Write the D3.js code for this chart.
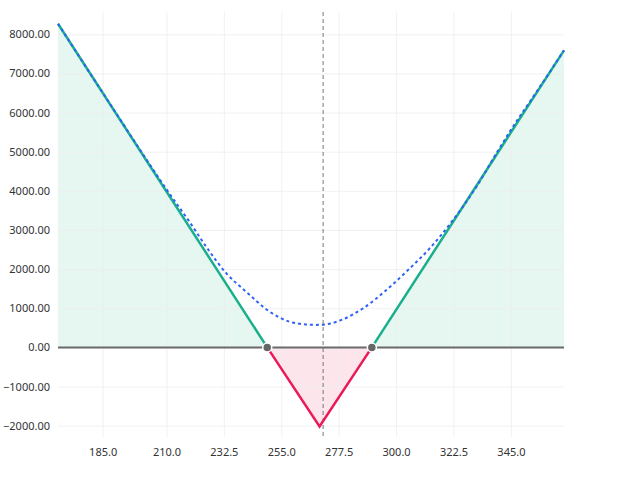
<!DOCTYPE html>
<html>
<head>
<meta charset="utf-8">
<script src="https://cdn.jsdelivr.net/npm/d3@7"></script>
<style>
  body { margin: 0; background: #fff; }
  svg text { font-family: "Noto Sans", sans-serif; font-size: 11px; fill: #333; }
</style>
</head>
<body>
<svg width="624" height="482"></svg>
<script>
// expiry payoff vertices (price, P&L)
var payoffPrice = [167.5, 249.5, 270, 290.5, 365.8];
var payoffValue = [8270, 0, -2020, 0, 7590];

// P&L today
var todayPrice = [167.5, 180, 190, 200, 210, 219, 225.6, 233.5, 241.3, 250.5, 258.3, 264, 268.5, 273, 279.2, 287.1, 296.2, 304, 313.2, 322.3, 331.5, 339.3, 345.8, 355, 365.8];
var todayValue = [8270, 7010, 6010, 5015, 4040, 3210, 2570, 1890, 1420, 910, 655, 590, 575, 595, 718, 1000, 1466, 1934, 2532, 3255, 4106, 4959, 5639, 6525, 7590];

var breakevens = [249.5, 290.5];
var spot = 271.4;

var xTicks = [185, 210, 232.5, 255, 277.5, 300, 322.5, 345];
var yTicks = [-2000, -1000, 0, 1000, 2000, 3000, 4000, 5000, 6000, 7000, 8000];

var svg = d3.select("svg");
var mLeft = 58, mRight = 564, mTop = 12, mBottom = 437;

var x = d3.scaleLinear().domain([167.5, 365.8]).range([mLeft, mRight]);
var y = d3.scaleLinear().domain([-2290, 8570]).range([mBottom, mTop]);

var payoff = payoffPrice.map(function(p, i) { return { p: p, v: payoffValue[i] }; });
var profitLeft = payoff.slice(0, 2), loss = payoff.slice(1, 4), profitRight = payoff.slice(3);

var area = d3.area().x(function(d) { return x(d.p); }).y0(y(0)).y1(function(d) { return y(d.v); });
var line = d3.line().x(function(d) { return x(d.p); }).y(function(d) { return y(d.v); });

[profitLeft, profitRight].forEach(function(seg) {
  svg.append("path").datum(seg).attr("d", area).attr("fill", "#e6f6f1");
});
svg.append("path").datum(loss).attr("d", area).attr("fill", "#fce6ec");

// grid
svg.append("g")
    .attr("transform", "translate(0," + mBottom + ")")
    .call(d3.axisBottom(x).tickValues(xTicks).tickSize(-(mBottom - mTop)).tickFormat(d3.format(".1f")))
    .call(function(g) {
      g.select(".domain").remove();
      g.selectAll("line").attr("stroke", "#eeeeee").attr("stroke-opacity", 0.8);
      g.selectAll("text").attr("dy", "1.45em").attr("fill", "#333");
    });

svg.append("g")
    .attr("transform", "translate(" + mLeft + ",0)")
    .call(d3.axisLeft(y).tickValues(yTicks).tickSize(-(mRight - mLeft)).tickFormat(d3.format(".2f")))
    .call(function(g) {
      g.select(".domain").remove();
      g.selectAll("line").attr("stroke", "#eeeeee").attr("stroke-opacity", 0.8);
      g.selectAll("text").attr("x", -8).attr("fill", "#333");
    });

// zero line
svg.append("line")
    .attr("x1", mLeft).attr("x2", mRight)
    .attr("y1", y(0)).attr("y2", y(0))
    .attr("stroke", "#6b6b6b").attr("stroke-width", 2);

// spot marker
svg.append("line")
    .attr("x1", x(spot)).attr("x2", x(spot))
    .attr("y1", mTop).attr("y2", mBottom)
    .attr("stroke", "#777").attr("stroke-width", 1).attr("stroke-dasharray", "4,3");

[profitLeft, profitRight].forEach(function(seg) {
  svg.append("path").datum(seg).attr("d", line)
      .attr("fill", "none").attr("stroke", "#1aaf8c").attr("stroke-width", 2.5);
});
svg.append("path").datum(loss).attr("d", line)
    .attr("fill", "none").attr("stroke", "#eb1a57").attr("stroke-width", 2.5);

var today = todayPrice.map(function(p, i) { return { p: p, v: todayValue[i] }; });
svg.append("path").datum(today)
    .attr("d", line.curve(d3.curveMonotoneX))
    .attr("fill", "none").attr("stroke", "#2e62f5").attr("stroke-width", 2).attr("stroke-dasharray", "3,3");

svg.selectAll(".be").data(breakevens).enter().append("circle")
    .attr("class", "be")
    .attr("cx", function(d) { return x(d); })
    .attr("cy", y(0))
    .attr("r", 4.5)
    .attr("fill", "#666").attr("stroke", "#fff").attr("stroke-width", 1.5);
</script>
</body>
</html>
